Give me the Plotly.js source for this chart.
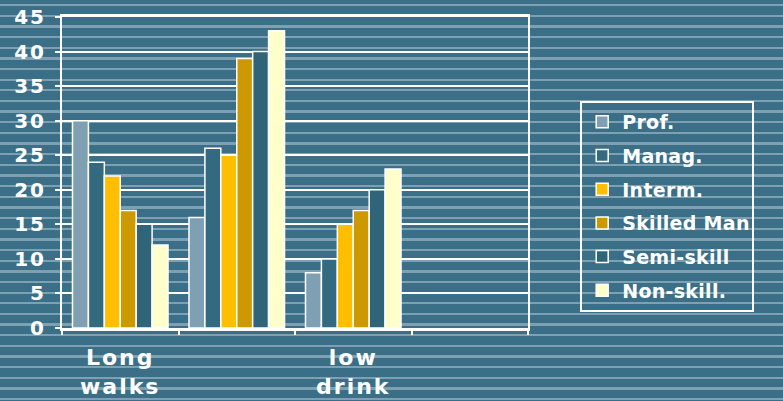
<!DOCTYPE html>
<html>
<head>
<meta charset="utf-8">
<script src="https://cdn.plot.ly/plotly-3.0.1.min.js"></script>
<style>
  html, body { margin: 0; padding: 0; width: 783px; height: 401px; overflow: hidden; }
  body {
    background-color: #3a6f87;
    background-image: repeating-linear-gradient(to bottom,
      #3a6f87 0px, #3a6f87 4px,
      #7da0b2 4px, #7da0b2 6.3px,
      #3a6f87 6.3px, #3a6f87 10.65px);
  }
  #chart { width: 783px; height: 401px; }
  #chart .xtick text, #chart .ytick text { letter-spacing: 2px; }
  #chart .legendtext { letter-spacing: 0.3px; }
</style>
</head>
<body>
<div id="chart"></div>
<script>
// Category labels (2nd and 4th category labels are not shown in the source)
const categories = ["Long<br>walks", "", "low<br>drink", ""];
const categoryIndex = [0, 1, 2, 3];
const boundaries = [-0.5, 0.5, 1.5, 2.5, 3.5];

const seriesNames = ["Prof.", "Manag.", "Interm.", "Skilled Man", "Semi-skill", "Non-skill."];
const profValues      = [30, 16, 8, null];
const managValues     = [24, 26, 10, null];
const intermValues    = [22, 25, 15, null];
const skilledValues   = [17, 39, 17, null];
const semiValues      = [15, 40, 20, null];
const nonSkillValues  = [12, 43, 23, null];

const seriesValues = [profValues, managValues, intermValues, skilledValues, semiValues, nonSkillValues];
const seriesColors = ["#7f9fb2", "#336a80", "#ffbf00", "#cc9900", "#2f6479", "#ffffcc"];

const yTicks = [0, 5, 10, 15, 20, 25, 30, 35, 40, 45];

const font = "DejaVu Sans, Verdana, sans-serif";

const traces = seriesNames.map((name, i) => ({
  type: "bar",
  name: name,
  x: categoryIndex,
  y: seriesValues[i],
  legendgroup: "g" + i,
  marker: { color: seriesColors[i], line: { color: "#ffffff", width: 1.5 } },
  hoverinfo: "skip"
}));

// invisible trace on xaxis2 to show category boundary ticks
traces.push({
  type: "scatter", x: boundaries, y: boundaries.map(() => 0),
  xaxis: "x2", mode: "markers", marker: { opacity: 0 },
  showlegend: false, hoverinfo: "skip"
});

const layout = {
  width: 783, height: 401,
  paper_bgcolor: "rgba(0,0,0,0)",
  plot_bgcolor: "rgba(0,0,0,0)",
  margin: { l: 62, r: 255, t: 17, b: 73, autoexpand: false },
  barmode: "group",
  bargap: 0.18,
  bargroupgap: 0,
  font: { family: font, color: "#ffffff", size: 20, weight: "bold" },
  xaxis: {
    type: "linear",
    range: [-0.5, 3.5],
    tickmode: "array",
    tickvals: categoryIndex,
    ticktext: categories,
    ticks: "",
    showgrid: false,
    zeroline: false,
    showline: true, linecolor: "#ffffff", linewidth: 3, mirror: true,
    tickfont: { family: font, size: 22, color: "#ffffff", weight: "bold" },
    ticklabelstandoff: 8
  },
  xaxis2: {
    overlaying: "x",
    range: [-0.5, 3.5],
    tickmode: "array",
    tickvals: boundaries,
    showticklabels: false,
    ticks: "outside", ticklen: 6, tickwidth: 2, tickcolor: "#ffffff",
    showgrid: false, zeroline: false, showline: false,
    side: "bottom"
  },
  yaxis: {
    range: [0, 45],
    tickmode: "array",
    tickvals: yTicks,
    ticks: "outside", ticklen: 5, tickwidth: 2, tickcolor: "#ffffff",
    showgrid: true, gridcolor: "#ffffff", gridwidth: 2,
    zeroline: false,
    showline: true, linecolor: "#ffffff", linewidth: 2, mirror: true,
    tickfont: { family: font, size: 20, color: "#ffffff", weight: "bold" },
    ticklabelstandoff: 5
  },
  showlegend: true,
  legend: {
    x: 1.112, xanchor: "left",
    y: 0.73, yanchor: "top",
    bgcolor: "rgba(0,0,0,0)",
    bordercolor: "#ffffff", borderwidth: 2,
    font: { family: font, size: 19, color: "#ffffff", weight: "bold" },
    tracegroupgap: 6,
    traceorder: "grouped"
  }
};

Plotly.newPlot("chart", traces, layout, { staticPlot: true, displayModeBar: false });
</script>
</body>
</html>
